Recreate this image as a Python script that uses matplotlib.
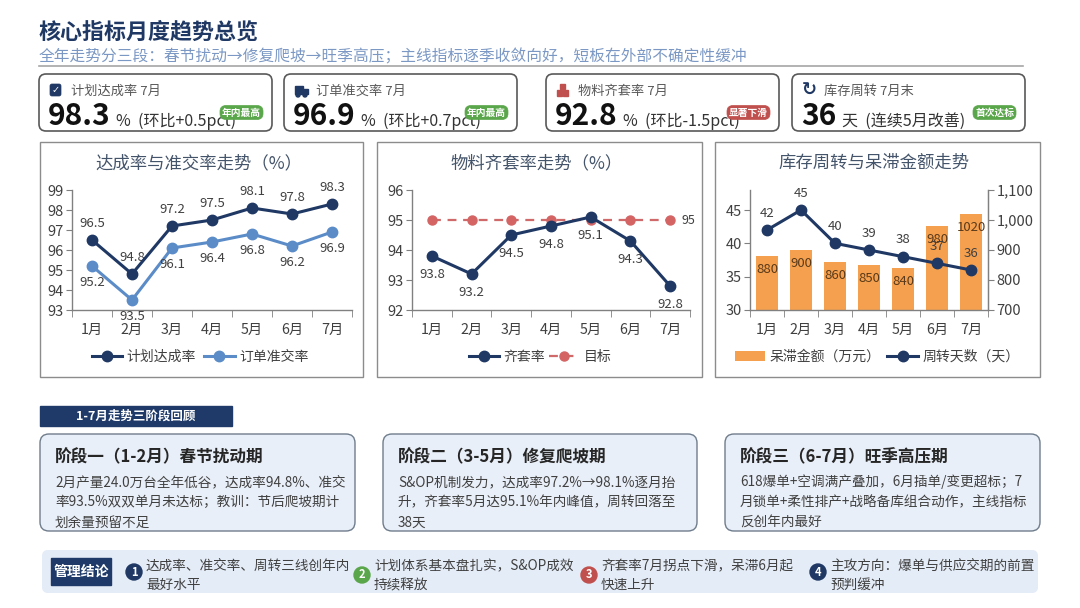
import numpy as np
import matplotlib
matplotlib.use('Agg')
import matplotlib.pyplot as plt
from matplotlib.patches import FancyBboxPatch, Rectangle, Circle
from matplotlib.ticker import FuncFormatter

plt.rcParams['font.family'] = ['Noto Sans CJK SC', 'DejaVu Sans']
plt.rcParams['axes.unicode_minus'] = False

# ---- 数据 ----
months = ['1月', '2月', '3月', '4月', '5月', '6月', '7月']
plan_rate = [96.5, 94.8, 97.2, 97.5, 98.1, 97.8, 98.3]
order_rate = [95.2, 93.5, 96.1, 96.4, 96.8, 96.2, 96.9]
kit_rate = [93.8, 93.2, 94.5, 94.8, 95.1, 94.3, 92.8]
kit_target = [95, 95, 95, 95, 95, 95, 95]
stale_amount = [880, 900, 860, 850, 840, 980, 1020]
turn_days = [42, 45, 40, 39, 38, 37, 36]

kpi_names = ['计划达成率 7月', '订单准交率 7月', '物料齐套率 7月', '库存周转 7月末']
kpi_values = ['98.3', '96.9', '92.8', '36']
kpi_units = ['%', '%', '%', '天']
kpi_notes = ['(环比+0.5pct)', '(环比+0.7pct)', '(环比-1.5pct)', '(连续5月改善)']
kpi_badges = ['年内最高', '年内最高', '显著下滑', '首次达标']

stage_titles = ['阶段一（1-2月）春节扰动期', '阶段二（3-5月）修复爬坡期', '阶段三（6-7月）旺季高压期']
stage_texts = [
    ['2月产量24.0万台全年低谷，达成率94.8%、准交', '率93.5%双双单月未达标；教训：节后爬坡期计', '划余量预留不足'],
    ['S&OP机制发力，达成率97.2%→98.1%逐月抬', '升，齐套率5月达95.1%年内峰值，周转回落至', '38天'],
    ['618爆单+空调满产叠加，6月插单/变更超标；7', '月锁单+柔性排产+战略备库组合动作，主线指标', '反创年内最好'],
]
conclusions = [
    ['达成率、准交率、周转三线创年内', '最好水平'],
    ['计划体系基本盘扎实，S&OP成效', '持续释放'],
    ['齐套率7月拐点下滑，呆滞6月起', '快速上升'],
    ['主攻方向：爆单与供应交期的前置', '预判缓冲'],
]

# ---- 样式 ----
NAVY = '#1f3864'
LIGHT = '#5b8cc8'
RED = '#c0504d'
GREEN = '#5aa64a'
ORANGE = '#f5a04e'
GRAY = '#808080'
TXT = '#404040'

W, H = 1080, 608
fig = plt.figure(figsize=(10.8, 6.08), dpi=100)
fig.patch.set_facecolor('white')

bg = fig.add_axes([0, 0, 1, 1], zorder=0)
bg.set_xlim(0, W)
bg.set_ylim(H, 0)
bg.axis('off')


def rbox(x, y, w, h, fc, ec, lw=1.0, r=8, z=1):
    bg.add_patch(FancyBboxPatch((x, y), w, h, boxstyle=f'round,pad=0,rounding_size={r}',
                                fc=fc, ec=ec, lw=lw, zorder=z))


def px_axes(l, t, r, b):
    return fig.add_axes([l / W, 1 - b / H, (r - l) / W, (b - t) / H], zorder=2)


# ---- 标题 ----
bg.text(39, 32, '核心指标月度趋势总览', fontsize=15.8, fontweight='bold', color=NAVY, va='center')
bg.text(39, 57, '全年走势分三段：春节扰动→修复爬坡→旺季高压；主线指标逐季收敛向好，短板在外部不确定性缓冲',
        fontsize=11.3, color='#7b98c4', va='center')
bg.plot([39, 1023], [66, 66], color='#a6a6a6', lw=1.2)

# ---- KPI 卡片 ----
card_x = [39, 284, 546, 792]
badge_colors = [GREEN, GREEN, RED, GREEN]
for i, cx in enumerate(card_x):
    rbox(cx, 74, 233, 57, 'white', '#595959', lw=1.2, r=7)
    # 图标
    ix, iy = cx + 11, 84
    if i == 0:
        rbox(ix, iy, 11, 12, NAVY, NAVY, lw=0.5, r=2, z=3)
        bg.text(ix + 5.5, iy + 6.5, '✓', color='white', fontsize=7, ha='center', va='center',
                family='DejaVu Sans', fontweight='bold', zorder=4)
    elif i == 1:
        bg.add_patch(Rectangle((ix, iy + 2), 8, 8, color=NAVY, zorder=3))
        bg.add_patch(Rectangle((ix + 8, iy + 5), 5, 5, color=NAVY, zorder=3))
        bg.add_patch(Circle((ix + 3, iy + 11), 2, color=NAVY, zorder=3))
        bg.add_patch(Circle((ix + 10, iy + 11), 2, color=NAVY, zorder=3))
    elif i == 2:
        bg.add_patch(Rectangle((ix, iy + 6), 5, 6, color=RED, zorder=3))
        bg.add_patch(Rectangle((ix + 6, iy + 6), 5, 6, color=RED, zorder=3))
        bg.add_patch(Rectangle((ix + 3, iy), 5, 5, color=RED, zorder=3))
    else:
        bg.text(ix + 6, iy + 6, '↻', color=NAVY, fontsize=13, ha='center', va='center',
                family='DejaVu Sans', fontweight='bold', zorder=3)
    bg.text(cx + 32, 91, kpi_names[i], fontsize=9.5, color='#595959', va='center')
    t = bg.text(cx + 9, 125, kpi_values[i], fontsize=21.5, fontweight='bold', color='#111111',
                va='baseline', ha='left')
    bg.annotate(kpi_units[i] + '  ' + kpi_notes[i], xy=(1, 0), xycoords=t, xytext=(4, 1),
                textcoords='offset points', fontsize=11.5, color='#333333', va='bottom', ha='left')
    rbox(cx + 181, 105.5, 43, 14, badge_colors[i], badge_colors[i], lw=0.5, r=6, z=5)
    bg.text(cx + 202.5, 112.5, kpi_badges[i], fontsize=7, fontweight='bold', color='white',
            ha='center', va='center', zorder=6)

# ---- 图表面板 ----
panels = [(40, 142, 363, 377), (377, 142, 702, 377), (715, 142, 1040, 377)]
chart_titles = ['达成率与准交率走势（%）', '物料齐套率走势（%）', '库存周转与呆滞金额走势']
for (l, t, r, b), ttl in zip(panels, chart_titles):
    bg.add_patch(Rectangle((l, t), r - l, b - t, fc='white', ec='#8c8c8c', lw=1.0, zorder=1))
    bg.text((l + r) / 2 - 3, 163, ttl, fontsize=12.5, color='#44546a', ha='center', va='center')

x = np.arange(len(months))


def style_axes(ax, right=False):
    ax.set_facecolor('none')
    ax.spines['top'].set_visible(False)
    if not right:
        ax.spines['right'].set_visible(False)
    for s in ['left', 'bottom', 'right']:
        ax.spines[s].set_color(GRAY)
        ax.spines[s].set_linewidth(1.0)
    ax.set_xlim(-0.5, len(months) - 0.5)
    ax.set_xticks(x)
    ax.set_xticklabels(months)
    ax.set_xticks(np.arange(-0.5, len(months), 1), minor=True)
    ax.tick_params(axis='x', which='major', length=0, pad=9, labelsize=10.3, labelcolor=TXT)
    ax.tick_params(axis='x', which='minor', length=5, color=GRAY)
    ax.tick_params(axis='y', length=4, color=GRAY, labelsize=10.5, labelcolor=TXT, pad=2)


# 图1
ax1 = px_axes(72, 190, 352, 310)
style_axes(ax1)
ax1.plot(x, plan_rate, color=NAVY, lw=2.2, marker='o', ms=7.5, label='计划达成率', zorder=4)
ax1.plot(x, order_rate, color=LIGHT, lw=2.2, marker='o', ms=7.5, label='订单准交率', zorder=3)
ax1.set_ylim(93, 99)
ax1.set_yticks(range(93, 100))
for i, v in enumerate(plan_rate):
    ax1.annotate(f'{v}', (i, v), xytext=(0, 12), textcoords='offset points', ha='center',
                 va='center', fontsize=9.5, color=TXT)
for i, v in enumerate(order_rate):
    ax1.annotate(f'{v}', (i, v), xytext=(0, -12), textcoords='offset points', ha='center',
                 va='center', fontsize=9.5, color=TXT)
ax1.legend(loc='center', bbox_to_anchor=(200 / W, 1 - 357 / H), bbox_transform=fig.transFigure,
           ncol=2, frameon=False, fontsize=10, handlelength=2.2, columnspacing=0.6,
           handletextpad=0.3, labelcolor=TXT)

# 图2
ax2 = px_axes(412, 190, 690, 310)
style_axes(ax2)
ax2.plot(x, kit_target, color='#d06a6a', lw=1.6, ls=(0, (4, 3)), marker='o', ms=6.5,
         mfc='#d46464', mec='#d46464', label='目标', zorder=3)
ax2.plot(x, kit_rate, color=NAVY, lw=2.2, marker='o', ms=7.5, label='齐套率', zorder=4)
ax2.set_ylim(92, 96)
ax2.set_yticks(range(92, 97))
for i, v in enumerate(kit_rate):
    ax2.annotate(f'{v}', (i, v), xytext=(0, -13), textcoords='offset points', ha='center',
                 va='center', fontsize=9.5, color=TXT)
ax2.annotate(f'{kit_target[-1]}', (x[-1], kit_target[-1]), xytext=(13, 0), textcoords='offset points',
             ha='center', va='center', fontsize=9, color=TXT)
h2, l2 = ax2.get_legend_handles_labels()
ax2.legend(h2[::-1], l2[::-1], loc='center', bbox_to_anchor=(540 / W, 1 - 357 / H),
           bbox_transform=fig.transFigure, ncol=2, frameon=False, fontsize=10, handlelength=2.2,
           columnspacing=0.3, handletextpad=0.3, labelcolor=TXT)

# 图3
ax3 = px_axes(750, 190, 988, 310)
ax3b = ax3.twinx()
style_axes(ax3, right=True)
ax3b.set_facecolor('none')
for s in ['top', 'left', 'bottom']:
    ax3b.spines[s].set_visible(False)
ax3b.spines['right'].set_color(GRAY)
bars = ax3b.bar(x, stale_amount, width=0.62, color=ORANGE, label='呆滞金额（万元）', zorder=2)
ax3b.set_ylim(700, 1100)
ax3b.set_yticks(range(700, 1101, 100))
ax3b.yaxis.set_major_formatter(FuncFormatter(lambda v, p: f'{int(v):,}'))
ax3b.tick_params(axis='y', length=4, color=GRAY, labelsize=10.5, labelcolor=TXT, pad=2)
for i, v in enumerate(stale_amount):
    ax3b.annotate(f'{v}', (i, v), xytext=(0, -10), textcoords='offset points', ha='center',
                  va='center', fontsize=9.5, color='#5a3a1a')
ax3.set_zorder(ax3b.get_zorder() + 1)
ax3.plot(x, turn_days, color=NAVY, lw=2.2, marker='o', ms=7.5, label='周转天数（天）', zorder=4)
ax3.set_ylim(30, 48)
ax3.set_yticks([30, 35, 40, 45])
for i, v in enumerate(turn_days):
    ax3.annotate(f'{v}', (i, v), xytext=(0, 12), textcoords='offset points', ha='center',
                 va='center', fontsize=9.5, color=TXT)
ax3.legend([bars, ax3.lines[0]], ['呆滞金额（万元）', '周转天数（天）'], loc='center',
           bbox_to_anchor=(877 / W, 1 - 357 / H), bbox_transform=fig.transFigure, ncol=2,
           frameon=False, fontsize=10, handlelength=2.2, columnspacing=0.5, handletextpad=0.3,
           labelcolor=TXT)

# ---- 三阶段回顾 ----
bg.add_patch(Rectangle((40, 406), 192, 20, color='#1f3a68', zorder=1))
bg.text(136, 416, '1-7月走势三阶段回顾', fontsize=9, fontweight='bold', color='white',
        ha='center', va='center', zorder=2)

stage_x = [(40, 355), (383, 697), (725, 1040)]
for (l, r), ttl, lines in zip(stage_x, stage_titles, stage_texts):
    rbox(l, 434, r - l, 97, '#e9eff8', '#6f7c8c', lw=1.0, r=9)
    bg.text(l + 15, 457, ttl, fontsize=12, fontweight='bold', color='#262626', va='center', zorder=3)
    for k, line in enumerate(lines):
        bg.text(l + 15, 482 + 20.5 * k, line, fontsize=9.8, color=TXT, va='center', zorder=3)

# ---- 管理结论 ----
rbox(42, 550, 996, 43, '#e4ecf7', 'none', lw=0, r=6)
bg.add_patch(Rectangle((51, 558), 60, 27, color='#1f3a68', zorder=3))
bg.text(81, 571.5, '管理结论', fontsize=10, fontweight='bold', color='white', ha='center',
        va='center', zorder=4)
circle_pos = [(134, 572), (362, 575), (589, 575), (818, 572)]
circle_colors = [NAVY, GREEN, RED, NAVY]
for k, ((ccx, ccy), cc, lines) in enumerate(zip(circle_pos, circle_colors, conclusions)):
    bg.add_patch(Circle((ccx, ccy), 8, color=cc, zorder=3))
    bg.text(ccx, ccy, str(k + 1), fontsize=8, fontweight='bold', color='white', ha='center',
            va='center', zorder=4)
    bg.text(ccx + 12, 566, lines[0], fontsize=9.8, color=TXT, va='center', zorder=3)
    bg.text(ccx + 12, 585, lines[1], fontsize=9.8, color=TXT, va='center', zorder=3)

fig.savefig('out.png', dpi=100, facecolor='white')
